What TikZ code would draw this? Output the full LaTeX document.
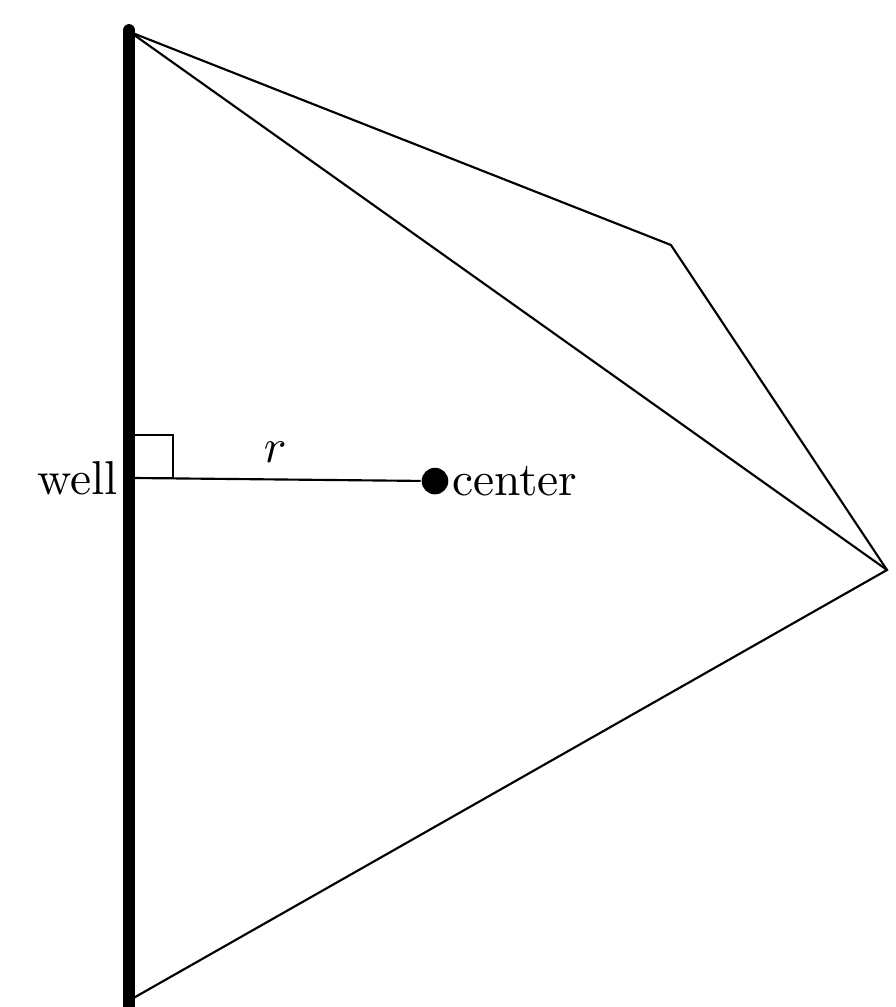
\documentclass[tikz,border=0pt]{standalone}
\usepackage{tikz}
\usetikzlibrary{positioning}
\tikzset{
  wellline/.style={line width=2.6pt, line cap=round},
  edgeline/.style={line width=0.45pt},
  centerdot/.style={circle, fill=black, inner sep=0pt, minimum size=5.6pt},
  ptlabel/.style={inner sep=1pt}
}
\begin{document}
\begin{tikzpicture}
  \useasboundingbox (0,0) rectangle (6.630,7.452);
  % corner points of the region
  \coordinate (top) at (0.962,7.215);
  \coordinate (bot) at (0.962,0.052);
  \coordinate (tip) at (6.564,3.234);
  \coordinate (knee) at (4.965,5.639);
  \coordinate (foot) at (0.962,3.915);
  \coordinate (welltop) at (0.955,7.228);
  \coordinate (wellbot) at (0.955,-0.3);
  \node[centerdot] (ctr) at (3.219,3.892) {};
  % outline
  \draw[edgeline] (top) -- (knee) -- (tip) -- (bot);
  \draw[edgeline] (top) -- (tip);
  % distance to the well
  \draw[edgeline] (foot) -- node[above] (rlabel) {$r$} (ctr);
  \draw[edgeline] (foot) rectangle ++(0.318,0.318);
  \draw[wellline] (welltop) -- (wellbot);
  \node[left, xshift=0.9pt] (welllabel) at (foot) {well};
  \node[ptlabel, right=-0.6pt of ctr] (ctrlabel) {center};
\end{tikzpicture}
\end{document}
